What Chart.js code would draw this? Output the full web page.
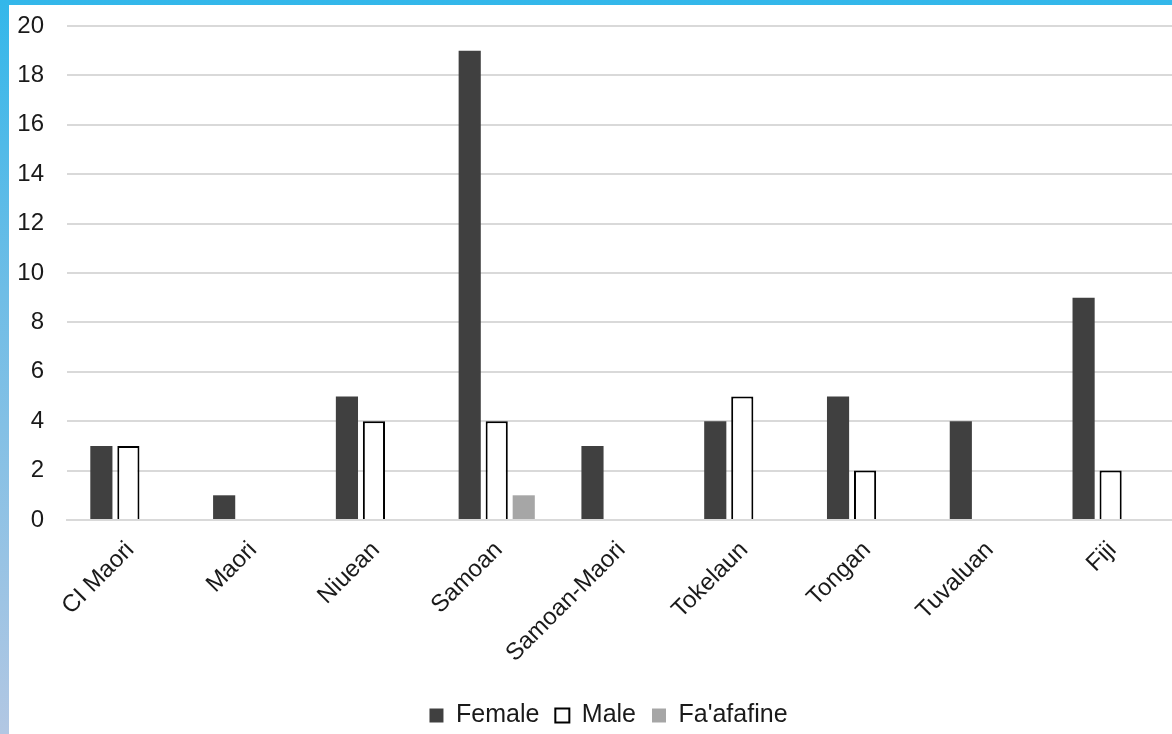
<!DOCTYPE html>
<html>
<head>
<meta charset="utf-8">
<script src="https://cdn.jsdelivr.net/npm/chart.js@4.4.1/dist/chart.umd.min.js"></script>
<style>
  html, body { margin: 0; padding: 0; }
  body {
    width: 1172px; height: 734px; overflow: hidden;
    background: linear-gradient(180deg, #33b7ea 0%, #6fbde6 40%, #b2c7e3 100%);
    position: relative;
  }
  #frame {
    position: absolute; left: 9px; top: 5px; width: 1163px; height: 729px;
    background: #ffffff;
  }
  canvas { display: block; }
</style>
</head>
<body>
<div id="frame"><canvas id="chart" width="1163" height="729"></canvas></div>
<script>
// Respondents by ethnic group and gender
const groups = ['CI Maori', 'Maori', 'Niuean', 'Samoan', 'Samoan-Maori', 'Tokelaun', 'Tongan', 'Tuvaluan', 'Fiji'];
const female = [3, 1, 5, 19, 3, 4, 5, 4, 9];
const male = [3, null, 4, 4, null, 5, 2, null, 2];
const faafafine = [null, null, null, 1, null, null, null, null, null];
const yTicks = [0, 2, 4, 6, 8, 10, 12, 14, 16, 18, 20];

const FONT = 'Liberation Sans, Arial, sans-serif';
const TEXT = '#1a1a1a';
const GRID = '#d9d9d9';

// Nudge the legend a little right of the canvas centre, under the plot area
const legendShift = {
  id: 'legendShift',
  afterLayout(chart) {
    const lg = chart.legend;
    if (!lg) return;
    const target = (chart.chartArea.left + chart.chartArea.right) / 2 - 11;
    const dx = target - (lg.left + lg.right) / 2;
    lg.left += dx;
    lg.right += dx;
  }
};

new Chart(document.getElementById('chart'), {
  type: 'bar',
  data: {
    labels: groups,
    datasets: [
      { label: 'Female', data: female, backgroundColor: '#404040', borderWidth: 0 },
      { label: 'Male', data: male, backgroundColor: '#ffffff', borderColor: '#000000', borderWidth: 2 },
      { label: "Fa'afafine", data: faafafine, backgroundColor: '#a6a6a6', borderWidth: 0 }
    ]
  },
  plugins: [legendShift],
  options: {
    responsive: false,
    animation: false,
    datasets: { bar: { categoryPercentage: 0.66, barPercentage: 0.82 } },
    layout: { padding: { left: 8, right: 0, top: 21, bottom: -4 } },
    plugins: {
      tooltip: { enabled: false },
      legend: {
        position: 'bottom',
        labels: {
          font: { family: FONT, size: 25 },
          color: TEXT,
          boxWidth: 14,
          boxHeight: 14,
          padding: 16
        }
      }
    },
    scales: {
      x: {
        grid: { display: false, drawTicks: false },
        border: { display: true, color: GRID, width: 2 },
        ticks: {
          font: { family: FONT, size: 24 },
          color: TEXT,
          minRotation: 45,
          maxRotation: 45,
          padding: 16,
          labelOffset: 2
        },
        afterFit: (scale) => {
          scale.height = 167;
          scale.paddingLeft = 0;
          scale.paddingRight = 0;
        }
      },
      y: {
        min: 0,
        max: 20,
        afterBuildTicks: (scale) => { scale.ticks = yTicks.map(v => ({ value: v })); },
        afterFit: (scale) => {
          scale.width = 50;
          scale.paddingTop = 0;
          scale.paddingBottom = 0;
        },
        grid: { color: GRID, lineWidth: 2, drawTicks: false },
        border: { display: false },
        ticks: {
          font: { family: FONT, size: 24 },
          color: TEXT,
          padding: 23
        }
      }
    }
  }
});
</script>
</body>
</html>
